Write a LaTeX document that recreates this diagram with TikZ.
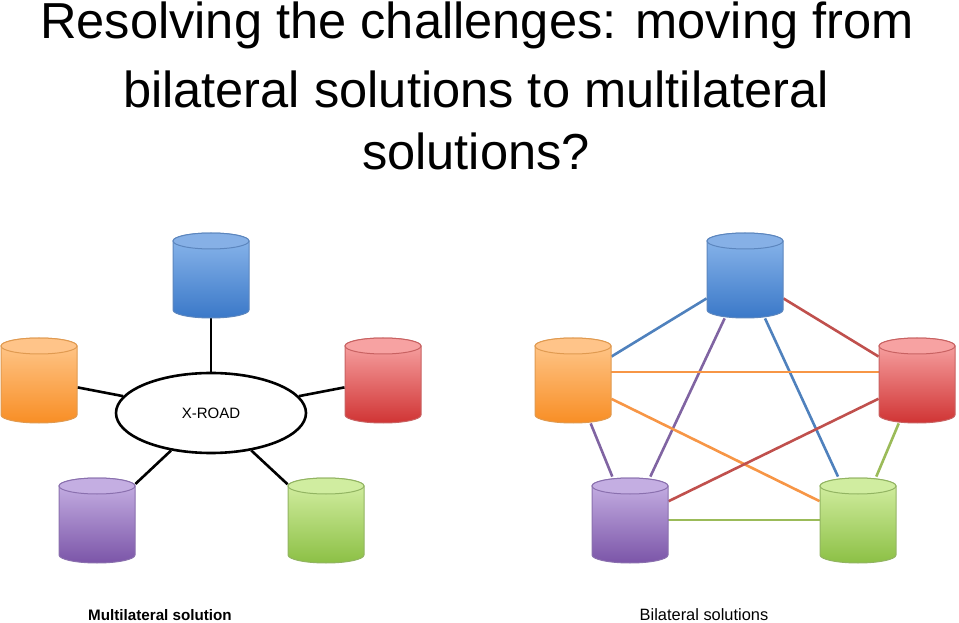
\documentclass[tikz,border=0pt]{standalone}
\usepackage{fontspec}
\setmainfont{Liberation Sans}
\usetikzlibrary{shapes.geometric}
\pgfdeclarelayer{bg}\pgfsetlayers{bg,main}
\definecolor{bluetop}{HTML}{8DB8EC}\definecolor{bluebot}{HTML}{3A78C8}\definecolor{blueedge}{HTML}{5C86BE}\definecolor{bluecap}{HTML}{86B0E6}
\definecolor{orangetop}{HTML}{FFC98F}\definecolor{orangebot}{HTML}{F88E25}\definecolor{orangeedge}{HTML}{E09A50}\definecolor{orangecap}{HTML}{FFC489}
\definecolor{redtop}{HTML}{F9A8A8}\definecolor{redbot}{HTML}{D03434}\definecolor{rededge}{HTML}{C86262}\definecolor{redcap}{HTML}{F7A2A2}
\definecolor{purpletop}{HTML}{C9B4E6}\definecolor{purplebot}{HTML}{7B55A8}\definecolor{purpleedge}{HTML}{8A70AE}\definecolor{purplecap}{HTML}{C4AEE2}
\definecolor{greentop}{HTML}{D6F0A6}\definecolor{greenbot}{HTML}{8CC045}\definecolor{greenedge}{HTML}{92B462}\definecolor{greencap}{HTML}{D0EDA0}
\definecolor{lblue}{HTML}{4F81BD}\definecolor{lred}{HTML}{C0504D}\definecolor{lorange}{HTML}{F79646}\definecolor{lpurple}{HTML}{8064A2}\definecolor{lgreen}{HTML}{9BBB59}
\newcommand\cyl[4]{%
 \shade[top color=#4top, bottom color=#4bot, draw=#4edge, line width=0.5pt]
   (#2-38,#3) -- (#2-38,#3-69) arc[start angle=180,end angle=360,x radius=19pt,y radius=4pt] -- (#2+38,#3) arc[start angle=0,end angle=180,x radius=19pt,y radius=4pt] -- cycle;
 \draw[fill=#4cap, draw=#4edge, line width=0.5pt] (#2,#3) ellipse[x radius=19pt,y radius=4pt];
 \node[cylbox] (#1) at (#2,#3-34) {};}
\begin{document}
\begin{tikzpicture}[x=0.5pt,y=0.5pt,
 cylbox/.style={rectangle,minimum width=38pt,minimum height=43pt,inner sep=0pt},
 spoke/.style={line width=1.3pt,black},
 link/.style={line width=1.3pt},
 ttl/.style={font=\fontsize{25.3}{25}\selectfont}]
\useasboundingbox (0,0) rectangle (959,622);
\node[ttl] (t1) at (477,597) {Resolving the challenges: moving from};
\node[ttl] (t2) at (476,533) {bilateral solutions to multilateral};
\node[ttl] (t3) at (476,471) {solutions?};
% left
\cyl{lb}{211}{381}{blue}
\cyl{lo}{39}{276}{orange}
\cyl{lr}{383}{276}{red}
\cyl{lp}{97}{136}{purple}
\cyl{lg}{326}{136}{green}
\node[ellipse,draw,line width=1.3pt,minimum width=95pt,minimum height=40pt,fill=white,font=\fontsize{7.5}{8}\selectfont] (xr) at (211,209) {X-ROAD};
\begin{pgfonlayer}{bg}
\draw[spoke] (lb) -- (xr); \draw[spoke] (lo) -- (xr); \draw[spoke] (lr) -- (xr);
\draw[spoke] (lp) -- (xr); \draw[spoke] (lg) -- (xr);
\end{pgfonlayer}
% right
\cyl{rb}{745}{381}{blue}
\cyl{ro}{573}{276}{orange}
\cyl{rr}{917}{276}{red}
\cyl{rp}{630}{136}{purple}
\cyl{rg}{858}{136}{green}
\begin{pgfonlayer}{bg}
\draw[link,lblue] (rb) -- (ro); \draw[link,lpurple] (rb) -- (rp); \draw[link,lblue] (rb) -- (rg); \draw[link,lred] (rb) -- (rr);
\draw[link,lorange] ([yshift=4pt]ro.center) -- ([yshift=4pt]rr.center); \draw[link,lorange] (ro) -- (rg); \draw[link,lpurple] (ro) -- (rp);
\draw[link,lred] (rr) -- (rp); \draw[link,lgreen] (rr) -- (rg); \draw[link,lgreen] (rp) -- (rg);
\end{pgfonlayer}
\node[font=\bfseries\fontsize{7.6}{8}\selectfont] (c1) at (160,7) {Multilateral solution};
\node[font=\fontsize{8.2}{9}\selectfont] (c2) at (704,7) {Bilateral solutions};
\end{tikzpicture}
\end{document}
